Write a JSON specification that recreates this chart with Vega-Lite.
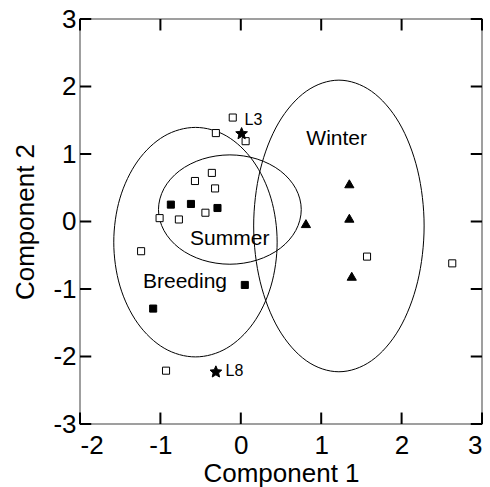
{
  "$schema": "https://vega.github.io/schema/vega-lite/v6.json",
  "width": 402,
  "height": 405,
  "autosize": {"type": "none"},
  "padding": {"left": 80, "top": 19, "right": 8, "bottom": 63},
  "background": "white",
  "config": {
    "view": {"stroke": "#808080", "strokeWidth": 1.5},
    "font": "Liberation Sans",
    "axis": {
      "grid": false,
      "domain": false,
      "ticks": false,
      "labelFont": "Liberation Sans",
      "titleFont": "Liberation Sans",
      "labelFontSize": 26,
      "titleFontSize": 26,
      "titleFontWeight": "normal",
      "labelColor": "black",
      "titleColor": "black"
    }
  },
  "datasets": {
    "ellipses": [
      {"g": "Breeding", "i": 0, "x": 0.452, "y": -0.306},
      {"g": "Breeding", "i": 1, "x": 0.375, "y": 0.345},
      {"g": "Breeding", "i": 2, "x": 0.154, "y": 0.896},
      {"g": "Breeding", "i": 3, "x": -0.175, "y": 1.265},
      {"g": "Breeding", "i": 4, "x": -0.564, "y": 1.394},
      {"g": "Breeding", "i": 5, "x": -0.953, "y": 1.265},
      {"g": "Breeding", "i": 6, "x": -1.282, "y": 0.896},
      {"g": "Breeding", "i": 7, "x": -1.503, "y": 0.345},
      {"g": "Breeding", "i": 8, "x": -1.58, "y": -0.306},
      {"g": "Breeding", "i": 9, "x": -1.503, "y": -0.957},
      {"g": "Breeding", "i": 10, "x": -1.282, "y": -1.508},
      {"g": "Breeding", "i": 11, "x": -0.953, "y": -1.877},
      {"g": "Breeding", "i": 12, "x": -0.564, "y": -2.006},
      {"g": "Breeding", "i": 13, "x": -0.175, "y": -1.877},
      {"g": "Breeding", "i": 14, "x": 0.154, "y": -1.508},
      {"g": "Breeding", "i": 15, "x": 0.375, "y": -0.957},
      {"g": "Summer", "i": 0, "x": 0.752, "y": 0.177},
      {"g": "Summer", "i": 1, "x": 0.684, "y": 0.487},
      {"g": "Summer", "i": 2, "x": 0.492, "y": 0.75},
      {"g": "Summer", "i": 3, "x": 0.204, "y": 0.925},
      {"g": "Summer", "i": 4, "x": -0.136, "y": 0.987},
      {"g": "Summer", "i": 5, "x": -0.476, "y": 0.925},
      {"g": "Summer", "i": 6, "x": -0.764, "y": 0.75},
      {"g": "Summer", "i": 7, "x": -0.956, "y": 0.487},
      {"g": "Summer", "i": 8, "x": -1.024, "y": 0.177},
      {"g": "Summer", "i": 9, "x": -0.956, "y": -0.133},
      {"g": "Summer", "i": 10, "x": -0.764, "y": -0.396},
      {"g": "Summer", "i": 11, "x": -0.476, "y": -0.571},
      {"g": "Summer", "i": 12, "x": -0.136, "y": -0.633},
      {"g": "Summer", "i": 13, "x": 0.204, "y": -0.571},
      {"g": "Summer", "i": 14, "x": 0.492, "y": -0.396},
      {"g": "Summer", "i": 15, "x": 0.684, "y": -0.133},
      {"g": "Winter", "i": 0, "x": 2.28, "y": -0.066},
      {"g": "Winter", "i": 1, "x": 2.199, "y": 0.761},
      {"g": "Winter", "i": 2, "x": 1.97, "y": 1.461},
      {"g": "Winter", "i": 3, "x": 1.626, "y": 1.929},
      {"g": "Winter", "i": 4, "x": 1.22, "y": 2.094},
      {"g": "Winter", "i": 5, "x": 0.814, "y": 1.929},
      {"g": "Winter", "i": 6, "x": 0.47, "y": 1.461},
      {"g": "Winter", "i": 7, "x": 0.241, "y": 0.761},
      {"g": "Winter", "i": 8, "x": 0.16, "y": -0.066},
      {"g": "Winter", "i": 9, "x": 0.241, "y": -0.893},
      {"g": "Winter", "i": 10, "x": 0.47, "y": -1.593},
      {"g": "Winter", "i": 11, "x": 0.814, "y": -2.062},
      {"g": "Winter", "i": 12, "x": 1.22, "y": -2.226},
      {"g": "Winter", "i": 13, "x": 1.626, "y": -2.062},
      {"g": "Winter", "i": 14, "x": 1.97, "y": -1.593},
      {"g": "Winter", "i": 15, "x": 2.199, "y": -0.893}
    ],
    "points": [
      {"x": -0.10, "y": 1.54, "type": "open"},
      {"x": -0.31, "y": 1.31, "type": "open"},
      {"x": 0.06, "y": 1.19, "type": "open"},
      {"x": -0.36, "y": 0.72, "type": "open"},
      {"x": -0.57, "y": 0.60, "type": "open"},
      {"x": -0.32, "y": 0.49, "type": "open"},
      {"x": -0.44, "y": 0.13, "type": "open"},
      {"x": -1.01, "y": 0.05, "type": "open"},
      {"x": -0.77, "y": 0.03, "type": "open"},
      {"x": -1.24, "y": -0.44, "type": "open"},
      {"x": 1.57, "y": -0.52, "type": "open"},
      {"x": 2.63, "y": -0.62, "type": "open"},
      {"x": -0.93, "y": -2.21, "type": "open"},
      {"x": -0.87, "y": 0.25, "type": "filled"},
      {"x": -0.62, "y": 0.26, "type": "filled"},
      {"x": -0.29, "y": 0.20, "type": "filled"},
      {"x": 0.05, "y": -0.94, "type": "filled"},
      {"x": -1.09, "y": -1.29, "type": "filled"},
      {"x": 1.35, "y": 0.56, "type": "triangle"},
      {"x": 1.35, "y": 0.05, "type": "triangle"},
      {"x": 0.81, "y": -0.03, "type": "triangle"},
      {"x": 1.38, "y": -0.81, "type": "triangle"},
      {"x": 0.01, "y": 1.30, "type": "star"},
      {"x": -0.31, "y": -2.23, "type": "star"}
    ],
    "groups": [
      {"text": "Summer", "x": -0.137, "y": -0.255},
      {"text": "Winter", "x": 1.193, "y": 1.228},
      {"text": "Breeding", "x": -0.694, "y": -0.889}
    ],
    "tags": [
      {"text": "L3", "x": 0.046, "y": 1.50},
      {"text": "L8", "x": -0.19, "y": -2.22}
    ],
    "xticks": [{"v": -2}, {"v": -1}, {"v": 0}, {"v": 1}, {"v": 2}, {"v": 3}],
    "yticks": [{"v": -3}, {"v": -2}, {"v": -1}, {"v": 0}, {"v": 1}, {"v": 2}, {"v": 3}]
  },
  "resolve": {"axis": {"x": "independent", "y": "independent"}},
  "layer": [
    {
      "data": {"name": "ellipses"},
      "mark": {"type": "line", "interpolate": "cardinal-closed", "color": "black", "strokeWidth": 1},
      "encoding": {
        "x": {"field": "x", "type": "quantitative", "scale": {"domain": [-2, 3], "nice": false, "zero": false},
              "axis": {"orient": "bottom", "values": [-2, -1, 0, 1, 2, 3], "title": "Component 1", "labelPadding": 8, "titlePadding": 2,
                       "labelExpr": "datum.value < 0 ? '-' + abs(datum.value) : '' + datum.value"}},
        "y": {"field": "y", "type": "quantitative", "scale": {"domain": [-3, 3], "nice": false, "zero": false},
              "axis": {"orient": "left", "values": [-3, -2, -1, 0, 1, 2, 3], "title": "Component 2", "labelPadding": 4, "titlePadding": 14,
                       "labelExpr": "datum.value < 0 ? '-' + abs(datum.value) : '' + datum.value"}},
        "detail": {"field": "g"},
        "order": {"field": "i", "type": "quantitative"}
      }
    },
    {
      "data": {"name": "points"},
      "mark": {"type": "point", "filled": true, "stroke": "black", "strokeWidth": 1, "opacity": 1, "size": 50},
      "encoding": {
        "x": {"field": "x", "type": "quantitative", "axis": null},
        "y": {"field": "y", "type": "quantitative", "axis": null},
        "shape": {"field": "type", "type": "nominal", "legend": null,
                  "scale": {"domain": ["open", "filled", "triangle", "star"],
                            "range": ["square", "square", "M0,-1.1L1.3,1.15L-1.3,1.15Z", "M0,-1.75L0.47,-0.65L1.66,-0.54L0.77,0.25L1.03,1.42L0,0.8L-1.03,1.42L-0.77,0.25L-1.66,-0.54L-0.47,-0.65Z"]}},
        "fill": {"field": "type", "type": "nominal", "legend": null,
                 "scale": {"domain": ["open", "filled", "triangle", "star"], "range": ["white", "black", "black", "black"]}}
      }
    },
    {
      "data": {"name": "xticks"},
      "mark": {"type": "rule", "color": "black", "strokeWidth": 2},
      "encoding": {
        "x": {"field": "v", "type": "quantitative", "axis": null},
        "y": {"datum": -3, "type": "quantitative", "axis": null},
        "y2": {"datum": -2.83}
      }
    },
    {
      "data": {"name": "xticks"},
      "mark": {"type": "rule", "color": "black", "strokeWidth": 2},
      "encoding": {
        "x": {"field": "v", "type": "quantitative", "axis": null},
        "y": {"datum": 3, "type": "quantitative", "axis": null},
        "y2": {"datum": 2.83}
      }
    },
    {
      "data": {"name": "yticks"},
      "mark": {"type": "rule", "color": "black", "strokeWidth": 2},
      "encoding": {
        "y": {"field": "v", "type": "quantitative", "axis": null},
        "x": {"datum": -2, "type": "quantitative", "axis": null},
        "x2": {"datum": -1.86}
      }
    },
    {
      "data": {"name": "yticks"},
      "mark": {"type": "rule", "color": "black", "strokeWidth": 2},
      "encoding": {
        "y": {"field": "v", "type": "quantitative", "axis": null},
        "x": {"datum": 3, "type": "quantitative", "axis": null},
        "x2": {"datum": 2.86}
      }
    },
    {
      "data": {"name": "groups"},
      "mark": {"type": "text", "font": "Liberation Sans", "fontSize": 21, "align": "center", "baseline": "middle", "color": "black"},
      "encoding": {
        "x": {"field": "x", "type": "quantitative", "axis": null},
        "y": {"field": "y", "type": "quantitative", "axis": null},
        "text": {"field": "text"}
      }
    },
    {
      "data": {"name": "tags"},
      "mark": {"type": "text", "font": "Liberation Sans", "fontSize": 16, "align": "left", "baseline": "middle", "color": "black"},
      "encoding": {
        "x": {"field": "x", "type": "quantitative", "axis": null},
        "y": {"field": "y", "type": "quantitative", "axis": null},
        "text": {"field": "text"}
      }
    }
  ]
}
